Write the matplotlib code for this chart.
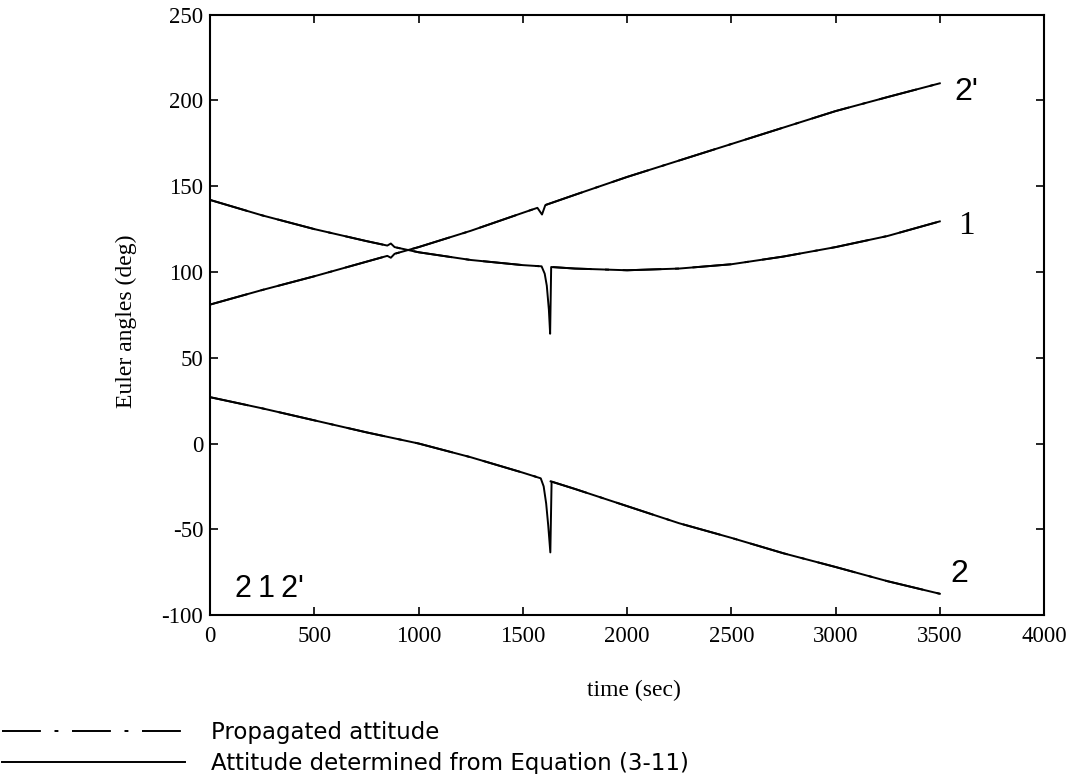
import matplotlib
matplotlib.use("Agg")
import matplotlib.pyplot as plt

plt.rcParams['font.family'] = ['Liberation Serif', 'DejaVu Serif']
plt.rcParams['axes.unicode_minus'] = False

# smooth propagated attitude (deg)
time_prop = [0, 250, 500, 750, 1000, 1250, 1500, 1750, 2000, 2250, 2500, 2750, 3000, 3250, 3500]
angle1_prop = [142, 133, 125, 118, 111.5, 107, 104, 102, 101, 102, 104.5, 109, 114.5, 121, 129.5]
angle2p_prop = [81, 89.5, 97.5, 106, 114.5, 124, 134.5, 145, 155.4, 165, 174.6, 184.2, 193.8, 202, 210]
angle2_prop = [27, 20.5, 13.5, 6.5, 0, -8, -17, -26.5, -36.5, -46.5, -55, -64, -72, -80.3, -87.6]

# attitude from equation (3-11), same curves with the glitches
time1_det = [0, 250, 500, 750, 850, 867, 885, 1000, 1250, 1500, 1590, 1605, 1615, 1625, 1631, 1636,
             1750, 2000, 2250, 2500, 2750, 3000, 3250, 3500]
angle1_det = [142, 133, 125, 118, 115.4, 116.6, 114.5, 111.5, 107, 104, 103.3, 99, 92, 78, 64, 102.9,
              102, 101, 102, 104.5, 109, 114.5, 121, 129.5]
time2p_det = [0, 250, 500, 750, 850, 867, 885, 1000, 1250, 1500, 1570, 1592, 1608,
              1750, 2000, 2250, 2500, 2750, 3000, 3250, 3500]
angle2p_det = [81, 89.5, 97.5, 106, 109.4, 108.3, 110.6, 114.5, 124, 134.5, 137.4, 133.5, 139.0,
               145, 155.4, 165, 174.6, 184.2, 193.8, 202, 210]
time2_det = [0, 250, 500, 750, 1000, 1250, 1500, 1586, 1600, 1612, 1622, 1632, 1638,
             1750, 2000, 2250, 2500, 2750, 3000, 3250, 3500]
angle2_det = [27, 20.5, 13.5, 6.5, 0, -8, -17, -20.3, -25, -35, -48, -63.5, -22.2,
              -26.5, -36.5, -46.5, -55, -64, -72, -80.3, -87.6]

curve_labels = ["2'", "1", "2"]
case_label = "2\u20091\u20092'"
legend_labels = ["Propagated attitude", "Attitude determined from Equation (3-11)"]

fig = plt.figure(figsize=(10.83, 7.74), dpi=100)
ax = fig.add_axes([0.194, 0.2054, 0.770, 0.7756])

dashdot = (0, (20, 7, 2, 7))
lw = 1.4
p1, = ax.plot(time_prop, angle1_prop, color='black', lw=lw, linestyle=dashdot, zorder=2)
ax.plot(time_prop, angle2p_prop, color='black', lw=lw, linestyle=dashdot, zorder=2)
ax.plot(time_prop, angle2_prop, color='black', lw=lw, linestyle=dashdot, zorder=2)
d1, = ax.plot(time1_det, angle1_det, color='black', lw=lw, zorder=3)
ax.plot(time2p_det, angle2p_det, color='black', lw=lw, zorder=3)
ax.plot(time2_det, angle2_det, color='black', lw=lw, zorder=3)

ax.set_xlim(0, 4000)
ax.set_ylim(-100, 250)
ax.set_xticks(range(0, 4001, 500))
ax.set_yticks(range(-100, 251, 50))
ax.tick_params(direction='in', top=True, right=True, length=5.5, width=1.2, labelsize=16.5)
ax.tick_params(axis='x', pad=8)
ax.tick_params(axis='y', pad=5)
for s in ax.spines.values():
    s.set_linewidth(1.5)

ax.set_xlabel("time (sec)", fontsize=17)
ax.set_ylabel("Euler angles (deg)", fontsize=17)
ax.xaxis.set_label_coords(0.508, -0.108)
ax.yaxis.set_label_coords(-0.088, 0.49)

sans = ['Liberation Sans', 'DejaVu Sans']
ax.text(3570, 205, curve_labels[0], fontsize=23, family=sans, va='center')
ax.text(3590, 127, curve_labels[1], fontsize=24, va='center')
ax.text(3550, -76, curve_labels[2], fontsize=23, family=sans, va='center')
ax.text(120, -85, case_label, fontsize=22, family=sans, va='center')

fig.legend([p1, d1], legend_labels, loc='upper left', bbox_to_anchor=(0.002, 0.068),
           frameon=False, prop={'family': 'DejaVu Sans', 'size': 16.5},
           handlelength=8.0, handletextpad=1.1, labelspacing=0.35,
           borderpad=0.0, borderaxespad=0.0)

fig.savefig("out.png", dpi=100)
